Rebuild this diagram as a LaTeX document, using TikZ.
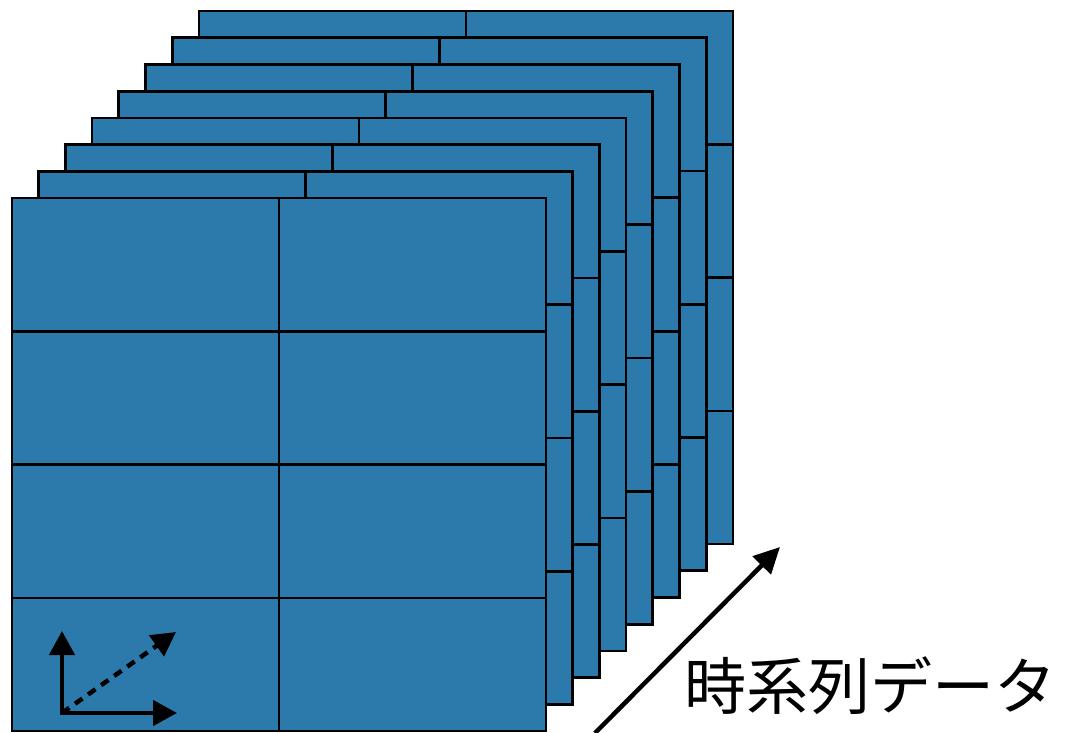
\documentclass[tikz,border=0pt]{standalone}
\usepackage{fontspec}
\newfontfamily\jpfont{Noto Sans CJK JP}
\usetikzlibrary{arrows.meta}
\definecolor{panelblue}{RGB}{44,122,172}
\begin{document}
\begin{tikzpicture}[x=1pt,y=-1pt,
  panel/.style={fill=panelblue,draw=black,line width=2.7pt},
  gridline/.style={draw=black,line width=2.7pt},
  smallarrow/.style={line width=4.5pt,-{Triangle[length=24pt,width=25pt]}},
  bigarrow/.style={line width=4.5pt,-{Triangle[length=26pt,width=25pt]}}]
\useasboundingbox (0,0) rectangle (1067,732);
\foreach \i in {7,6,5,4,3,2,1,0} {
  \pgfmathsetmacro\ox{12+26.7*\i}
  \pgfmathsetmacro\oy{198-26.7*\i}
  \begin{scope}[shift={(\ox,\oy)}]
    \draw[panel] (0,0) rectangle (534,533);
    \draw[gridline] (267,0) -- (267,533) (0,133.3) -- (534,133.3) (0,266.7) -- (534,266.7) (0,400) -- (534,400);
  \end{scope}
}
\coordinate (o) at (62,713);
\coordinate (ob) at (62,715);
\coordinate (ol) at (60,713);
\coordinate (up) at (62,631);
\coordinate (rt) at (177,713);
\coordinate (dg) at (176,632);
\draw[smallarrow] (ob) -- (up);
\draw[smallarrow] (ol) -- (rt);
\draw[smallarrow,dash pattern=on 9pt off 7pt] (o) -- (dg);
\coordinate (tail) at (595,733);
\coordinate (head) at (780,547);
\draw[bigarrow] (tail) -- (head);
\node[font=\jpfont\fontsize{62}{62}\selectfont,inner sep=0pt] (label) at (870,686) {時系列データ};
\end{tikzpicture}
\end{document}
